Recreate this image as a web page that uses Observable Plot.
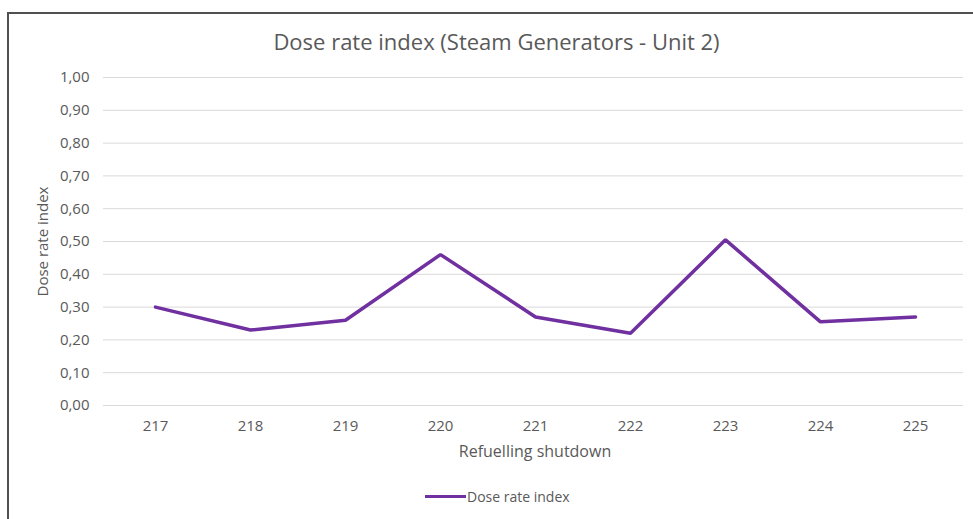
<!DOCTYPE html>
<html>
<head>
<meta charset="utf-8">
<script src="https://cdn.jsdelivr.net/npm/d3@7"></script>
<script src="https://cdn.jsdelivr.net/npm/@observablehq/plot@0.6"></script>
<style>
  html, body { margin: 0; padding: 0; background: #fff; }
  #wrap { position: relative; width: 973px; height: 519px; overflow: hidden; font-family: "Open Sans", sans-serif; }
  #frame { position: absolute; left: 7px; top: 12px; right: -4px; bottom: -4px; border-top: 2px solid #505050; border-left: 2px solid #505050; pointer-events: none; }
  #title { position: absolute; left: 0; width: 993px; top: 26px; text-align: center; font-size: 22px; color: #595959; }
  #legend { position: absolute; left: 425px; top: 487px; font-size: 14px; color: #595959; display: flex; align-items: center; }
  #legend .sw { display: inline-block; width: 41px; height: 3.5px; background: #7030A0; margin-right: 1px; }
  #chart { position: absolute; left: 0; top: 0; }
</style>
</head>
<body>
<div id="wrap">
  <div id="chart"></div>
  <div id="frame"></div>
  <div id="title">Dose rate index (Steam Generators - Unit 2)</div>
  <div id="legend"><span class="sw"></span><span id="legendText">Dose rate index</span></div>
</div>
<script>
const categories = ["217", "218", "219", "220", "221", "222", "223", "224", "225"];
const doseRateIndex = [0.30, 0.23, 0.26, 0.46, 0.27, 0.22, 0.505, 0.255, 0.27];
const yTicks = [0, 0.1, 0.2, 0.3, 0.4, 0.5, 0.6, 0.7, 0.8, 0.9, 1.0];
const seriesName = "Dose rate index";
const xTitle = "Refuelling shutdown";
const yTitle = "Dose rate index";

document.getElementById("legendText").textContent = seriesName;

const data = categories.map((c, i) => ({ shutdown: c, value: doseRateIndex[i] }));
const fmt = v => d3.format(".2f")(v).replace(".", ",");

const chart = Plot.plot({
  width: 973,
  height: 519,
  marginLeft: 104,
  marginRight: 8,
  marginTop: 77,
  marginBottom: 114,
  style: { fontFamily: "'Open Sans', sans-serif", background: "transparent", color: "#595959" },
  x: { type: "point", domain: categories, padding: 0.5, label: null },
  y: { domain: [0, 1], label: null },
  marks: [
    Plot.ruleY(yTicks, { stroke: "#d9d9d9", strokeWidth: 1, insetLeft: -1, insetRight: 2 }),
    Plot.axisY({ ticks: yTicks, tickFormat: fmt, tickSize: 0, tickPadding: 15, fontSize: 15, fill: "#595959", label: null }),
    Plot.axisX({ tickSize: 0, tickPadding: 15, fontSize: 15, fill: "#595959", label: null }),
    Plot.line(data, { x: "shutdown", y: "value", stroke: "#7030A0", strokeWidth: 3.5, strokeLinejoin: "miter" }),
    Plot.text([xTitle], { frameAnchor: "bottom", dy: 46, text: d => d, fontSize: 16, fill: "#595959", textAnchor: "middle", lineAnchor: "middle" }),
    Plot.text([yTitle], { frameAnchor: "left", dx: -61, rotate: -90, text: d => d, fontSize: 15, fill: "#595959", textAnchor: "middle", lineAnchor: "middle" })
  ]
});
document.getElementById("chart").appendChild(chart);
</script>
</body>
</html>
